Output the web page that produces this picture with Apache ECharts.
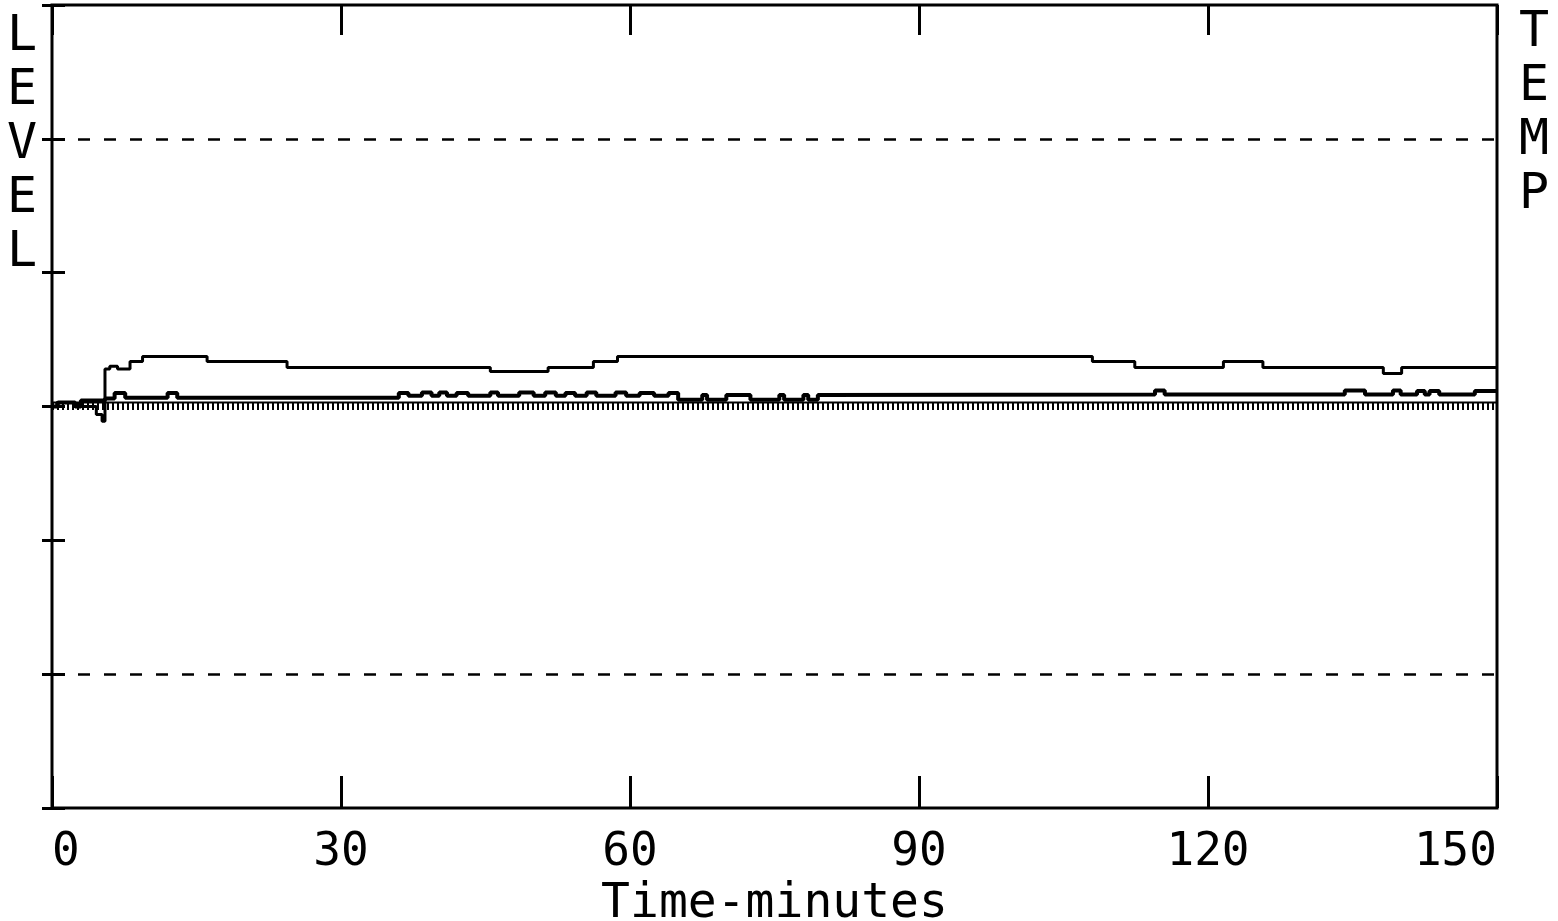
<!DOCTYPE html>
<html>
<head>
<meta charset="utf-8">
<script src="https://cdn.jsdelivr.net/npm/echarts@6/dist/echarts.min.js"></script>
<style>
html,body{margin:0;padding:0;background:#fff;}
#chart{width:1558px;height:921px;}
</style>
</head>
<body>
<div id="chart"></div>
<script>
// ---- data ----
var xTicks = [0, 30, 60, 90, 120, 150];
var levelTitle = 'LEVEL';
var tempTitle = 'TEMP';
var xTitle = 'Time-minutes';
var gridLevels = [2, -2];

// upper trace (thin)
var upperT = [0, 0.5, 2.3, 4.6, 5.2, 5.5, 6.0, 6.8, 8.1, 9.4, 16.1, 24.4, 45.5, 51.5, 56.2, 58.7, 108.0, 112.4, 121.6, 125.7, 138.2, 140.1, 150];
var upperV = [0.0, 0.03, 0.0, -0.06, -0.11, 0.28, 0.30, 0.28, 0.336, 0.373, 0.336, 0.291, 0.261, 0.291, 0.336, 0.373, 0.336, 0.291, 0.336, 0.291, 0.246, 0.291, 0.291];

// lower trace (thick)
var lowerT = [0, 0.6, 2.4, 3.0, 5.5, 6.5, 7.6, 12.0, 13.0, 36.0, 37.0, 38.4, 39.4, 40.2, 41.0, 42.0, 43.2, 45.5, 46.3, 48.5, 50.0, 51.2, 52.3, 53.3, 54.3, 55.5, 56.5, 58.5, 59.6, 61.0, 62.5, 64.0, 65.0, 67.5, 68.0, 70.0, 72.5, 75.5, 76.0, 78.0, 78.5, 79.5, 80.0, 114.5, 115.5, 134.2, 136.3, 139.2, 140.0, 141.7, 142.5, 143.0, 144.0, 147.7, 150];
var lowerV = [0.0, 0.03, 0.0, 0.045, 0.06, 0.10, 0.065, 0.10, 0.065, 0.10, 0.08, 0.105, 0.08, 0.105, 0.08, 0.10, 0.08, 0.105, 0.08, 0.105, 0.08, 0.105, 0.08, 0.10, 0.08, 0.105, 0.08, 0.105, 0.08, 0.10, 0.08, 0.10, 0.05, 0.085, 0.05, 0.085, 0.05, 0.085, 0.05, 0.085, 0.05, 0.085, 0.09, 0.12, 0.09, 0.12, 0.09, 0.12, 0.09, 0.115, 0.09, 0.115, 0.09, 0.115, 0.115];

// zero reference trace (comb)
var refT = [0, 150];
var refTopV = [0.03, 0.03];
var refV = [0.0, 0.0];

function pairs(t, v) { return t.map(function (x, i) { return [x, v[i]]; }); }

var chart = echarts.init(document.getElementById('chart'), null, {renderer: 'canvas'});
var font = '"DejaVu Sans Mono", "Liberation Mono", monospace';

var option = {
  animation: false,
  backgroundColor: '#fff',
  grid: {left: 52, right: 61, top: 5, bottom: 113, show: true, borderColor: '#000', borderWidth: 3,
         backgroundColor: 'transparent', containLabel: false, outerBoundsMode: 'none'},
  xAxis: [{
    type: 'value', min: xTicks[0], max: xTicks[xTicks.length - 1], interval: 30, position: 'bottom',
    axisLine: {show: false, onZero: false},
    axisTick: {show: true, inside: true, length: 32, lineStyle: {color: '#000', width: 3}},
    splitLine: {show: false},
    axisLabel: {show: true, color: '#000', fontFamily: font, fontSize: 46, margin: 22, alignMinLabel: 'left', alignMaxLabel: 'right'},
    name: xTitle, nameLocation: 'middle', nameGap: 66,
    nameTextStyle: {color: '#000', fontFamily: font, fontSize: 48, verticalAlign: 'top'}
  }, {
    type: 'value', min: xTicks[0], max: xTicks[xTicks.length - 1], interval: 30, position: 'top',
    axisLine: {show: false, onZero: false},
    axisTick: {show: true, inside: true, length: 30, lineStyle: {color: '#000', width: 3}},
    splitLine: {show: false}, axisLabel: {show: false}
  }],
  yAxis: [{
    type: 'value', min: -3, max: 3, interval: 1, position: 'left',
    axisLine: {show: false, onZero: false},
    axisTick: {show: true, inside: true, length: 13, lineStyle: {color: '#000', width: 3}},
    splitLine: {show: false}, axisLabel: {show: false}
  }, {
    type: 'value', min: -3, max: 3, interval: 1, position: 'left',
    axisLine: {show: false, onZero: false},
    axisTick: {show: true, inside: false, length: 10, lineStyle: {color: '#000', width: 3}},
    splitLine: {show: false}, axisLabel: {show: false}
  }],
  graphic: [{
    type: 'text', left: 7, top: 10,
    style: {text: levelTitle.split('').join('\n'), font: '50px ' + font, fill: '#000', lineHeight: 54}
  }, {
    type: 'text', left: 1519, top: 6,
    style: {text: tempTitle.split('').join('\n'), font: '50px ' + font, fill: '#000', lineHeight: 54}
  }],
  series: [{
    name: 'grid', type: 'line', data: [], silent: true,
    markLine: {
      symbol: 'none', silent: true, label: {show: false},
      lineStyle: {color: '#000', width: 2.5, type: [12, 14]},
      data: gridLevels.map(function (g) { return {yAxis: g}; })
    }
  }, {
    name: 'ref', type: 'line', data: pairs(refT, refV), showSymbol: false,
    lineStyle: {color: '#000', width: 7, type: [2, 3]}
  }, {
    name: 'refTop', type: 'line', data: pairs(refT, refTopV), showSymbol: false,
    lineStyle: {color: '#000', width: 2}
  }, {
    name: 'upper', type: 'line', step: 'end', data: pairs(upperT, upperV), showSymbol: false,
    lineStyle: {color: '#000', width: 3}
  }, {
    name: 'lower', type: 'line', step: 'end', data: pairs(lowerT, lowerV), showSymbol: false,
    lineStyle: {color: '#000', width: 4}
  }]
};
chart.setOption(option);
</script>
</body>
</html>
